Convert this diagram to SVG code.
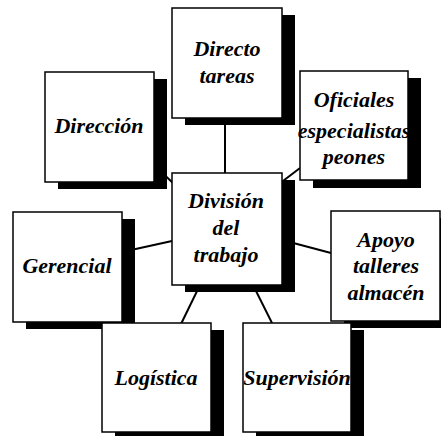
<svg xmlns="http://www.w3.org/2000/svg" width="441" height="436" viewBox="0 0 441 436">
<style>
.box{fill:#fff;stroke:#000;stroke-width:1.5}
.sh{fill:#000}
.c{stroke:#000;stroke-width:2;fill:none}
.t{font-family:'Liberation Serif','Times New Roman',serif;font-weight:bold;font-style:italic;font-size:22px;text-anchor:middle;fill:#000}
</style>
<rect width="441" height="436" fill="#fff"/>
<g id="connectors">
<line class="c" x1="225" y1="118" x2="225" y2="173"/>
<line class="c" x1="154" y1="165" x2="173" y2="183"/>
<line class="c" x1="283" y1="181" x2="300" y2="168"/>
<line class="c" x1="122" y1="252" x2="172" y2="241"/>
<line class="c" x1="282" y1="240" x2="331" y2="253"/>
<line class="c" x1="200" y1="285" x2="181" y2="324"/>
<line class="c" x1="253" y1="285" x2="272" y2="323"/>
</g>
<g id="shadows">
<rect class="sh" x="185" y="15" width="110" height="110"/>
<rect class="sh" x="58" y="79" width="109" height="110"/>
<rect class="sh" x="313" y="78" width="108" height="110"/>
<rect class="sh" x="185" y="180" width="110" height="112"/>
<rect class="sh" x="26" y="219" width="109" height="110"/>
<rect class="sh" x="115" y="330" width="109" height="109"/>
<rect class="sh" x="344" y="218" width="109" height="110"/>
<rect class="sh" x="256" y="330" width="108" height="109"/>
</g>
<g id="directo">
<rect class="box" x="172" y="8" width="110" height="110"/>
<text class="t" x="227" y="56">Directo</text>
<text class="t" x="227" y="83">tareas</text>
</g>
<g id="direccion">
<rect class="box" x="45" y="72" width="109" height="110"/>
<text class="t" x="99" y="133">Dirección</text>
</g>
<g id="oficiales">
<rect class="box" x="300" y="71" width="108" height="109"/>
<text class="t" x="354" y="107">Oficiales</text>
<text class="t" x="354" y="138">especialistas</text>
<text class="t" x="354" y="164">peones</text>
</g>
<g id="division">
<rect class="box" x="172" y="173" width="110" height="112"/>
<text class="t" x="226" y="208">División</text>
<text class="t" x="226" y="235">del</text>
<text class="t" x="226" y="262">trabajo</text>
</g>
<g id="gerencial">
<rect class="box" x="13" y="212" width="109" height="110"/>
<text class="t" x="67" y="273">Gerencial</text>
</g>
<g id="logistica">
<rect class="box" x="102" y="323" width="109" height="109"/>
<text class="t" x="156" y="385">Logística</text>
</g>
<g id="apoyo">
<rect class="box" x="331" y="211" width="109" height="110"/>
<text class="t" x="386" y="247">Apoyo</text>
<text class="t" x="386" y="273">talleres</text>
<text class="t" x="386" y="300">almacén</text>
</g>
<g id="supervision">
<rect class="box" x="243" y="323" width="108" height="109"/>
<text class="t" x="297" y="385">Supervisión</text>
</g>
</svg>
